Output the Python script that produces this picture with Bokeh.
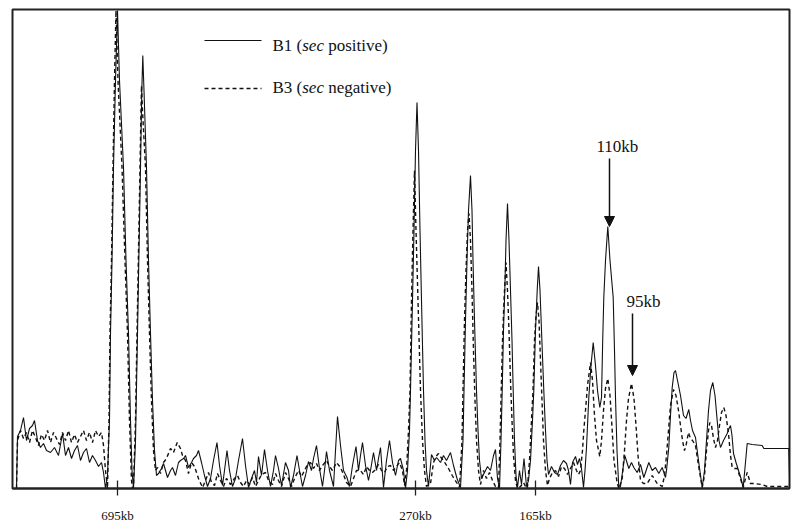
from bokeh.plotting import figure
from bokeh.models import Range1d, FixedTicker, Arrow, NormalHead
from bokeh.core.properties import value
from bokeh.embed import file_html
from bokeh.resources import INLINE

# ---- data: densitometry traces (position along gel, intensity) ----
b1_pos = [16, 17, 20, 23, 26, 29, 32, 34, 37, 40, 43, 46, 50, 54, 58, 62, 65, 68, 71, 74, 77, 80, 83, 86, 89, 92, 95, 98, 101, 103, 105,
          107, 109, 110, 111.5, 113, 115, 117, 119, 123, 125.5, 128, 130, 131.5, 133,
          135, 137, 138.5, 140, 141.3, 142.3, 143.5, 146, 148, 150, 152, 154, 156,
          158, 161, 163, 165, 167, 170, 172, 175, 178, 180, 183, 185, 188, 191, 193, 196, 198, 201, 204, 207, 210, 213, 216.5, 219, 222, 224,
          226.5, 229, 232, 235, 238, 242, 245, 248, 251, 254, 256, 258, 261, 264, 267, 270, 273, 275, 278, 281, 285, 288, 290, 293, 296.5, 299,
          302, 305, 308, 311, 313, 316, 319, 322, 324, 326, 329, 333, 335, 337, 340, 343, 346.5, 349, 352, 355.5, 358, 360, 362, 365, 368, 370,
          373, 376, 378, 380, 383, 386, 389, 392, 395, 398, 400, 403, 405,
          407, 409, 410, 412, 413.5, 415, 416.5, 418, 419.5, 421, 423, 424.5, 426, 428,
          431, 434, 436, 440, 443, 446, 450, 453, 456.5, 460,
          462.5, 463.5, 465, 466.5, 468, 470, 471.5, 472.5, 474, 476, 477.5, 479, 481,
          484, 487, 490, 493, 495, 497, 499,
          500.5, 501.7, 503, 504.3, 505.5, 507, 508.5, 510, 511.5, 512.7, 514, 515.5, 517,
          519, 521, 523.5, 526, 528,
          530, 532, 533.3, 535, 536.7, 538, 539.5, 541, 543.3, 545, 546.5, 548,
          551, 554, 557, 560, 563, 566, 568, 570, 572, 575, 577, 579, 581, 583,
          584.5, 586, 588.3, 590.5, 592.7, 595, 597, 599.3, 601, 602.2, 603.3, 605, 607.3, 609.5, 612.7, 614, 615, 616.5, 618.3,
          620, 624.3, 628.3, 631, 633.3, 636.7, 640, 643.3, 648.3, 651.7, 655, 658.3, 661.7, 665,
          666, 668.3, 670, 671.7, 673.5, 675, 677, 680, 683, 685.5, 688.3, 690, 692, 695, 698, 701.7,
          704, 706, 708, 710, 712.3, 714.5, 716.7, 718.5, 720, 723, 726.7, 728.5, 730, 731.5, 733, 735.5, 738, 740.5, 742.7,
          746.7, 751.7, 761.7, 763.3, 788.3, 789.3]
b1_int = [0, 52, 58, 71, 48, 60, 63, 68, 48, 41, 45, 38, 36, 41, 33, 55, 33, 41, 30, 38, 43, 28, 36, 40, 26, 33, 28, 22, 26, 16, 0,
          13, 68, 155, 228, 321, 408, 478, 408, 321, 228, 155, 68, 18, 0,
          48, 155, 238, 321, 398, 433, 398, 321, 228, 155, 88, 38, 13,
          15, 20, 25, 18, 11, 18, 21, 13, 26, 28, 30, 33, 21, 26, 30, 33, 38, 26, 13, 2, 10, 28, 46, 23, 3, 18,
          38, 18, 2, 10, 28, 50, 23, 1, 10, 18, 6, 32, 13, 39, 18, 2, 18, 33, 20, 3, 26, 18, 1, 13, 33, 18,
          2, 13, 27, 18, 30, 43, 20, 2, 18, 37, 18, 2, 38, 72, 43, 18, 11, 2, 23, 42, 18, 33, 46, 23, 8, 18,
          36, 18, 30, 41, 1, 28, 48, 26, 13, 28, 30, 18, 0,
          18, 58, 98, 188, 258, 338, 386, 338, 258, 188, 98, 48, 18, 2,
          34, 28, 31, 26, 33, 28, 36, 23, 10, 1,
          48, 98, 168, 228, 278, 313, 278, 228, 168, 98, 58, 28, 10,
          16, 22, 18, 33, 39, 10, 0,
          48, 98, 158, 198, 248, 285, 248, 198, 148, 98, 48, 13, 1,
          18, 4, 30, 2, 8,
          28, 68, 98, 158, 198, 222, 198, 158, 98, 58, 28, 14,
          22, 16, 14, 23, 28, 25, 18, 4, 26, 32, 24, 30, 20, 1,
          18, 41, 91, 123, 146, 123, 98, 81, 91, 148, 191, 228, 262, 228, 191, 138, 91, 38, 1,
          2, 33, 20, 26, 21, 16, 24, 11, 26, 18, 21, 15, 21, 11,
          18, 41, 73, 101, 116, 118, 108, 93, 73, 70, 79, 68, 58, 51, 28, 1,
          18, 48, 78, 98, 106, 93, 68, 48, 41, 48, 55, 60, 63, 53, 35, 26, 18, 10, 1,
          45, 44, 43, 40, 40, 1]

b3_pos = [16, 17, 20, 23, 26, 29, 32, 35, 38, 41, 44, 47, 50, 53, 56, 59, 62, 65, 68, 71, 74, 77, 80, 83, 86, 89, 92, 95, 98, 101, 103, 105, 107,
          108.5, 109.5, 111, 112.5, 114, 115.5, 117.5, 121.5, 124.5, 127, 129, 131, 132,
          133, 135, 136.5, 138, 139.5, 140.5, 141, 142, 145, 147, 149, 151, 153, 155,
          157, 160, 163, 166, 170, 173, 176.7, 180, 182, 185, 188, 191, 194, 198, 202, 205, 208, 211, 214, 217, 220, 223, 226, 230,
          234, 237, 240, 243, 246, 249, 252, 255, 258, 261, 265, 268, 272, 275, 278, 281, 285, 288, 291, 294, 298, 301, 304, 307,
          310, 313, 316, 319, 322, 326, 329, 332, 336, 340, 343, 346, 350, 353, 356, 360, 363, 366, 369, 372, 375, 378, 381, 384,
          387, 390, 393, 396, 399, 402, 404,
          406, 408, 409.5, 411, 412.5, 414, 415.5, 417.5, 420, 422, 424, 426,
          430, 433, 435.5, 438, 440.5, 443, 448, 451.7, 456.7, 459,
          461.5, 462.5, 464, 465.5, 467, 468.5, 470, 471.5, 473, 474.5, 476, 478, 480,
          483, 486, 489, 492, 495, 498,
          499.5, 500.5, 502, 503.5, 505.5, 507, 508.5, 510, 511.5, 513, 515, 517,
          520, 523, 526,
          527, 529, 531, 532.5, 534, 535.5, 537, 538.5, 540, 541.5, 543, 545, 547,
          549, 552, 555, 558, 561, 564, 567, 570, 573, 576, 578, 580,
          582, 583.3, 585, 587, 590, 592, 594, 596, 599.3, 601, 603, 605, 607.3, 609.5, 611.7, 613.5, 616.7, 618.5,
          621.7, 624, 626, 628, 631, 633.5, 635.5, 637.5, 640, 643, 646.7, 651.7, 656.7, 661.7,
          664, 666, 668, 670, 673, 675.5, 678, 680, 682, 684, 685.5, 688, 690, 692, 695, 698, 701.7,
          704, 706, 708, 709.3, 711, 713, 715, 717, 719, 721, 723.3, 725.5, 728, 730, 731.7, 734, 736.7, 739, 742.7,
          745, 746.7, 748.5, 750, 753, 761.7, 766.7, 788.3, 789]
b3_int = [0, 48, 58, 50, 56, 46, 58, 51, 43, 54, 48, 58, 46, 56, 50, 44, 56, 48, 58, 46, 54, 46, 52, 58, 48, 56, 46, 58, 52, 56, 43, 18, 0,
          68, 155, 228, 321, 408, 478, 408, 321, 228, 155, 68, 8, 0,
          3, 68, 155, 238, 321, 378, 403, 378, 321, 228, 155, 88, 38, 18,
          21, 15, 26, 30, 40, 36, 46, 40, 33, 28, 15, 26, 22, 10, 1, 8, 16, 6, 3, 15, 8, 2, 10, 4,
          10, 13, 6, 2, 8, 4, 11, 2, 8, 14, 16, 8, 4, 15, 8, 2, 16, 10, 2, 10, 18, 12, 18, 24,
          26, 20, 25, 18, 23, 28, 22, 18, 26, 21, 14, 6, 2, 10, 18, 18, 14, 22, 18, 16, 19, 24, 18, 16,
          22, 23, 18, 22, 26, 18, 3,
          18, 58, 98, 188, 258, 318, 258, 188, 98, 48, 18, 2,
          5, 26, 32, 35, 31, 28, 20, 13, 5, 1,
          48, 98, 168, 218, 258, 275, 248, 198, 138, 88, 48, 18, 4,
          18, 10, 16, 8, 2, 0,
          48, 88, 148, 188, 226, 198, 158, 108, 68, 33, 8, 0,
          2, 6, 0,
          2, 28, 68, 98, 148, 173, 186, 168, 128, 88, 48, 18, 3,
          10, 16, 18, 12, 22, 20, 14, 20, 26, 18, 14, 18,
          38, 58, 78, 103, 126, 108, 73, 48, 32, 48, 78, 100, 110, 93, 58, 28, 5, 0,
          10, 38, 68, 90, 105, 90, 63, 33, 8, 5, 5, 13, 5, 2,
          13, 33, 58, 83, 99, 93, 78, 63, 48, 38, 43, 56, 50, 48, 43, 23, 1,
          13, 38, 58, 66, 63, 50, 41, 48, 63, 76, 81, 73, 55, 33, 21, 20, 20, 13, 1,
          10, 16, 10, 5, 5, 4, 2, 2, 0]

# size-marker ticks on the x axis
marker_pos = [117, 415, 535]
marker_labels = ["695kb", "270kb", "165kb"]

# band annotations (arrow position, arrow start / end intensity, label)
band_pos = [609, 632]
band_top = [330, 175]
band_tip = [262, 113]
band_labels = ["110kb", "95kb"]
band_label_x = [596, 626]
band_label_y = [342, 187]

X0, X1 = 12, 789
Y0, Y1 = 0, 479

p = figure(width=799, height=527, output_backend="svg", toolbar_location=None,
           x_range=Range1d(X0, X1), y_range=Range1d(Y0, Y1),
           y_axis_location=None, min_border_left=12, min_border_right=10,
           min_border_top=9, min_border_bottom=39)
p.xgrid.visible = False
p.ygrid.visible = False
p.outline_line_color = "#222222"
p.outline_line_width = 2
p.background_fill_color = "white"
p.border_fill_color = "white"

p.line(b1_pos, b1_int, line_color="#111111", line_width=1.1)
p.line(b3_pos, b3_int, line_color="#111111", line_width=1.4, line_dash="4 3")

ax = p.xaxis[0]
ax.ticker = FixedTicker(ticks=marker_pos)
ax.major_label_overrides = {k: v for k, v in zip(marker_pos, marker_labels)}
ax.major_tick_in = 8
ax.major_tick_out = 7
ax.minor_tick_in = 0
ax.minor_tick_out = 0
ax.major_tick_line_color = "#222222"
ax.major_tick_line_width = 1.3
ax.axis_line_color = "#222222"
ax.axis_line_width = 2
ax.major_label_text_font = "Liberation Serif"
ax.major_label_text_font_size = "13px"
ax.major_label_text_color = "#111111"
ax.major_label_standoff = 12

# legend drawn by hand (mixed italic text)
FONT = value("Liberation Serif")
leg_y_line = [448, 400]
leg_y_text = [443, 401]
p.line([204, 261], [leg_y_line[0]] * 2, line_color="#111111", line_width=1.1)
p.line([204, 261], [leg_y_line[1]] * 2, line_color="#111111", line_width=1.4, line_dash="4 3")
fs = 17
w_prefix = 1.75 * fs
w_sec = 1.277 * fs
for i, (pre, post) in enumerate([("B1 (", "\u00a0positive)"), ("B3 (", "\u00a0negative)")]):
    p.text(x=[272], y=[leg_y_text[i]], text=[pre.replace(" ", "\u00a0")], text_font=FONT, text_font_size=f"{fs}px",
           text_baseline="alphabetic", text_align="left", text_color="#111111")
    p.text(x=[272 + w_prefix], y=[leg_y_text[i]], text=["sec"], text_font=FONT, text_font_size=f"{fs}px",
           text_font_style="italic", text_baseline="alphabetic", text_align="left", text_color="#111111")
    p.text(x=[272 + w_prefix + w_sec], y=[leg_y_text[i]], text=[post], text_font=FONT, text_font_size=f"{fs}px",
           text_baseline="alphabetic", text_align="left", text_color="#111111")

for bx, bt, btip in zip(band_pos, band_top, band_tip):
    p.add_layout(Arrow(end=NormalHead(size=10, fill_color="#111111", line_color="#111111"),
                       x_start=bx, y_start=bt, x_end=bx, y_end=btip,
                       line_color="#111111", line_width=1.5))
p.text(x=band_label_x, y=band_label_y, text=band_labels, text_font=FONT, text_font_size="17px",
       text_baseline="alphabetic", text_align="left", text_color="#111111")

open("out.html", "w").write(file_html(p, INLINE))
